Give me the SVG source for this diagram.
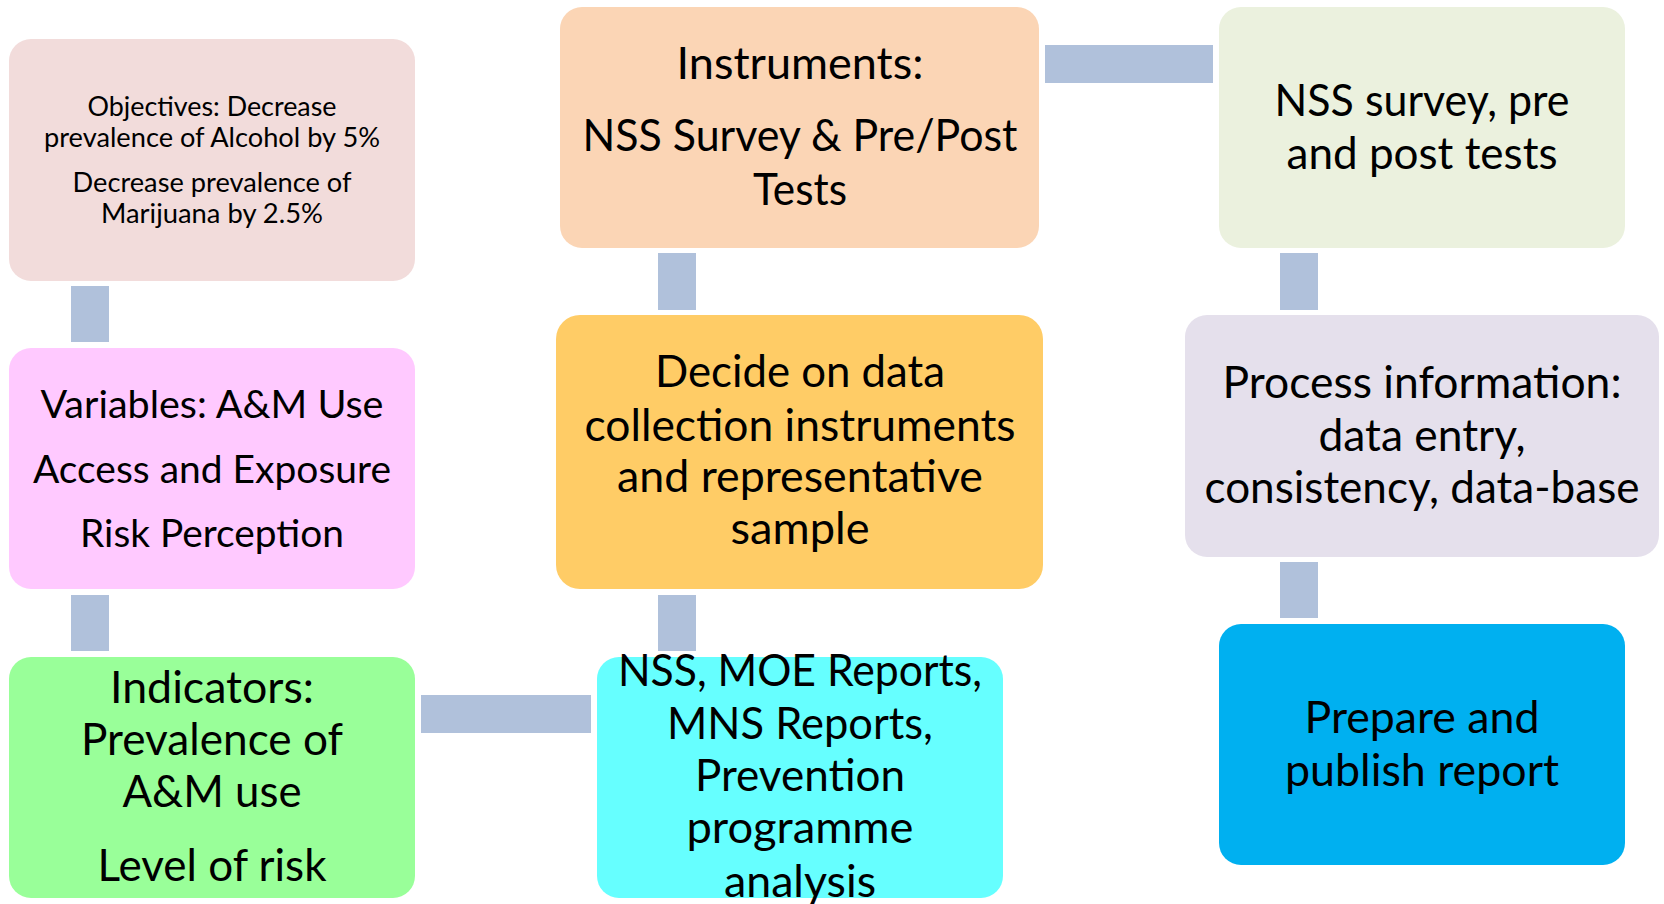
<svg xmlns="http://www.w3.org/2000/svg" width="1664" height="904" viewBox="0 0 1664 904">
<style>
.t{font-family:Lato,"Open Sans","Liberation Sans",sans-serif;fill:#000;text-anchor:middle}
.s{font-size:27px}
.m{font-size:39.5px}
.l{font-size:44px}
.c{fill:#B0C1DB}
</style>
<rect width="1664" height="904" fill="#fff"/>
<g id="connectors">
<rect class="c" x="71" y="286" width="38" height="56"/>
<rect class="c" x="71" y="595" width="38" height="56"/>
<rect class="c" x="421" y="695" width="170" height="38"/>
<rect class="c" x="658" y="595" width="38" height="56"/>
<rect class="c" x="658" y="253" width="38" height="57"/>
<rect class="c" x="1045" y="45" width="168" height="38"/>
<rect class="c" x="1280" y="253" width="38" height="57"/>
<rect class="c" x="1280" y="562" width="38" height="56"/>
</g>
<g id="objectives">
<rect x="9" y="39" width="406" height="242" rx="22" fill="#F2DCDB"/>
<text class="t s" x="212" y="116" textLength="249" lengthAdjust="spacingAndGlyphs">Objectives: Decrease</text>
<text class="t s" x="212" y="147" textLength="336" lengthAdjust="spacingAndGlyphs">prevalence of Alcohol by 5%</text>
<text class="t s" x="212" y="192" textLength="279" lengthAdjust="spacingAndGlyphs">Decrease prevalence of</text>
<text class="t s" x="212" y="223" textLength="222" lengthAdjust="spacingAndGlyphs">Marijuana by 2.5%</text>
</g>
<g id="variables">
<rect x="9" y="348" width="406" height="241" rx="22" fill="#FFC9FF"/>
<text class="t m" x="212" y="418" textLength="343" lengthAdjust="spacingAndGlyphs">Variables: A&amp;M Use</text>
<text class="t m" x="212" y="483" textLength="358" lengthAdjust="spacingAndGlyphs">Access and Exposure</text>
<text class="t m" x="212" y="547" textLength="264" lengthAdjust="spacingAndGlyphs">Risk Perception</text>
</g>
<g id="indicators">
<rect x="9" y="657" width="406" height="241" rx="22" fill="#99FF99"/>
<text class="t l" x="212" y="703" textLength="204" lengthAdjust="spacingAndGlyphs">Indicators:</text>
<text class="t l" x="212" y="755" textLength="262" lengthAdjust="spacingAndGlyphs">Prevalence of</text>
<text class="t l" x="212" y="807" textLength="179" lengthAdjust="spacingAndGlyphs">A&amp;M use</text>
<text class="t l" x="212" y="881" textLength="229" lengthAdjust="spacingAndGlyphs">Level of risk</text>
</g>
<g id="instruments">
<rect x="560" y="7" width="479" height="241" rx="22" fill="#FBD5B5"/>
<text class="t l" x="800" y="79" textLength="247" lengthAdjust="spacingAndGlyphs">Instruments:</text>
<text class="t l" x="800" y="151" textLength="435" lengthAdjust="spacingAndGlyphs">NSS Survey &amp; Pre/Post</text>
<text class="t l" x="800" y="205" textLength="94" lengthAdjust="spacingAndGlyphs">Tests</text>
</g>
<g id="decide">
<rect x="556" y="315" width="487" height="274" rx="24" fill="#FFCC66"/>
<text class="t l" x="800" y="387" textLength="290" lengthAdjust="spacingAndGlyphs">Decide on data</text>
<text class="t l" x="800" y="441" textLength="431" lengthAdjust="spacingAndGlyphs">collection instruments</text>
<text class="t l" x="800" y="492" textLength="366" lengthAdjust="spacingAndGlyphs">and representative</text>
<text class="t l" x="800" y="544" textLength="139" lengthAdjust="spacingAndGlyphs">sample</text>
</g>
<g id="sources">
<rect x="597" y="657" width="406" height="241" rx="22" fill="#66FFFF"/>
<text class="t l" x="800" y="686" textLength="364" lengthAdjust="spacingAndGlyphs">NSS, MOE Reports,</text>
<text class="t l" x="800" y="739" textLength="266" lengthAdjust="spacingAndGlyphs">MNS Reports,</text>
<text class="t l" x="800" y="791" textLength="210" lengthAdjust="spacingAndGlyphs">Prevention</text>
<text class="t l" x="800" y="843" textLength="227" lengthAdjust="spacingAndGlyphs">programme</text>
<text class="t l" x="800" y="897" textLength="152" lengthAdjust="spacingAndGlyphs">analysis</text>
</g>
<g id="nss">
<rect x="1219" y="7" width="406" height="241" rx="22" fill="#EBF1DE"/>
<text class="t l" x="1422" y="116" textLength="295" lengthAdjust="spacingAndGlyphs">NSS survey, pre</text>
<text class="t l" x="1422" y="169" textLength="271" lengthAdjust="spacingAndGlyphs">and post tests</text>
</g>
<g id="process">
<rect x="1185" y="315" width="474" height="242" rx="22" fill="#E5E0EC"/>
<text class="t l" x="1422" y="398" textLength="399" lengthAdjust="spacingAndGlyphs">Process information:</text>
<text class="t l" x="1422" y="451" textLength="207" lengthAdjust="spacingAndGlyphs">data entry,</text>
<text class="t l" x="1422" y="503" textLength="435" lengthAdjust="spacingAndGlyphs">consistency, data-base</text>
</g>
<g id="report">
<rect x="1219" y="624" width="406" height="241" rx="22" fill="#00B0F0"/>
<text class="t l" x="1422" y="733" textLength="235" lengthAdjust="spacingAndGlyphs">Prepare and</text>
<text class="t l" x="1422" y="786" textLength="274" lengthAdjust="spacingAndGlyphs">publish report</text>
</g>
</svg>
